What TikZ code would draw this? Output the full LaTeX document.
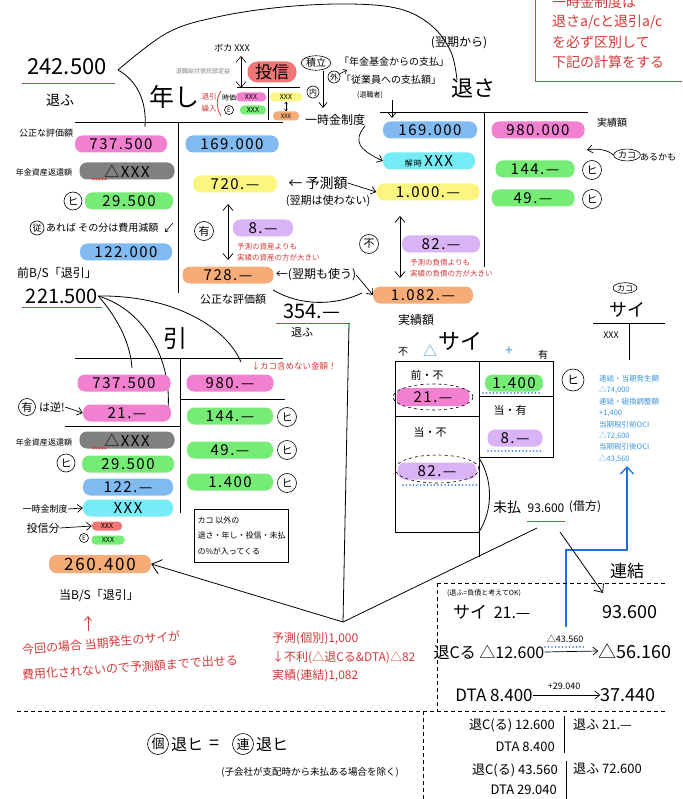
\documentclass[tikz,border=0pt]{standalone}
\usepackage{fontspec}
\setmainfont{Noto Sans CJK JP}
\newfontfamily\hnum[LetterSpace=10]{Noto Sans CJK JP}
\usetikzlibrary{arrows.meta,decorations.pathmorphing,shapes.geometric}
\newcommand\fsz[1]{\fontsize{#1}{#1}\selectfont}
\definecolor{cpink}{RGB}{242,128,208}
\definecolor{cblue}{RGB}{128,186,240}
\definecolor{cgray}{RGB}{128,128,128}
\definecolor{cgreen}{RGB}{118,236,118}
\definecolor{cyellow}{RGB}{250,246,128}
\definecolor{cpurple}{RGB}{218,178,246}
\definecolor{corange}{RGB}{246,172,118}
\definecolor{ccyan}{RGB}{118,236,246}
\definecolor{cred}{RGB}{240,118,118}
\definecolor{tred}{RGB}{212,58,58}
\definecolor{tblue}{RGB}{62,150,218}
\definecolor{dblue}{RGB}{30,115,225}
\tikzset{
  pill/.style={rounded corners=7.5pt, minimum height=17pt, inner sep=0pt, font=\hnum\fsz{15}},
  spill/.style={rounded corners=4pt, minimum height=9pt, inner sep=0pt, font=\fsz{7}},
  txt/.style={inner sep=0pt},
  rtxt/.style={inner sep=0pt, text=tred, font=\fsz{14}},
  circ/.style={draw, circle, line width=0.6pt, inner sep=0pt, minimum size=15pt, font=\fsz{10}},
  oval/.style={draw, ellipse, line width=0.6pt, inner sep=0.5pt, font=\fsz{10}},
  ln/.style={line width=0.8pt},
  arr/.style={line width=0.7pt, -{Straight Barb[length=5pt,width=8pt]}},
  bigarr/.style={line width=0.8pt, -{Straight Barb[length=9pt,width=15pt]}},
  darr/.style={line width=0.7pt, {Straight Barb[length=6pt,width=10pt]}-{Straight Barb[length=6pt,width=10pt]}},
  rnote/.style={inner sep=0pt, text=tred, font={\fontsize{7.5}{10.5}\selectfont}, align=left},
  bnote/.style={inner sep=0pt, text=tblue, font={\fontsize{7.5}{11.4}\selectfont}, align=left},
  redul/.style={draw=tred, line width=1pt},
  bdot/.style={draw=dblue, line width=1.6pt, dash pattern=on 0pt off 3.5pt, line cap=round},
  dsh/.style={line width=0.8pt, dash pattern=on 4pt off 3pt},
  squig/.style={draw=tred, line width=0.6pt, decorate, decoration={snake, amplitude=1pt, segment length=3pt}},
}
\begin{document}
\begin{tikzpicture}[x=1pt,y=-1pt]
\clip (0,0) rectangle (682,799);
\fill[white] (0,0) rectangle (682,799);

% ---------- top-right red box
\coordinate (rb1) at (700,82);
\coordinate (rb2) at (535,82);
\coordinate (rb3) at (535,-5);
\draw[draw=tred, line width=1pt] (rb1) -- (rb2) -- (rb3);
\node[rtxt, anchor=west] (rt1) at (552,2) {一時金制度は};
\node[rtxt, anchor=west] (rt2) at (552,22) {退さa/cと退引a/c};
\node[rtxt, anchor=west] (rt3) at (552,42) {を必ず区別して};
\node[rtxt, anchor=west] (rt4) at (552,62) {下記の計算をする};

% ---------- top-left 242.500
\node[txt, font=\fsz{22}] (n242) at (67,67) {242.500};
\coordinate (u1a) at (22,84); \coordinate (u1b) at (115,84);
\draw[redul] (u1a) -- (u1b);
\node[txt, font=\fsz{14}] (tf1) at (60,100) {退ふ};
\coordinate (tip242) at (118,70);
\coordinate (arcend) at (457,80);
\draw[ln] plot[smooth,tension=0.6] coordinates {(tip242) (167,33) (217,17) (283,7) (350,4) (400,9) (432,26) (451,52) (arcend)};
\coordinate (lowend) at (145,127);
\draw[ln] (tip242) .. controls (136,80) and (147,100) .. (lowend);

% ---------- 投信 area
\node[txt, font=\fsz{9}] (boka) at (232,48) {ボカ XXX};
\coordinate (bk1) at (241,56); \coordinate (bk2) at (241,88);
\draw[darr, line width=0.6pt] (bk1) -- (bk2);
\node[txt, text=gray, font=\fsz{6}] (setei) at (203,71) {退職給付信託設定益};
\node[pill, fill=cred, minimum width=49pt, minimum height=21pt, rounded corners=10pt, font=\fsz{17}] (toushin) at (272,72) {投信};
\node[txt, font=\fsz{25}] (nenshi) at (174,97) {年し};
\node[txt, text=tred, font={\fontsize{7.5}{12}\selectfont}, align=center] (kurii) at (209,103) {退引\\繰入};
\draw[tred, line width=0.8pt] (221,91) .. controls (216,98) and (216,108) .. (221,116);
\node[txt, font=\fsz{7}] (jika) at (229,98) {時価};
\node[spill, fill=cpink, minimum width=30pt] (tsx1) at (251,97) {XXX};
\node[circ, minimum size=9pt, font=\fsz{6}] (tse) at (229,110) {E};
\node[spill, fill=cgreen, minimum width=26pt] (tsx2) at (253,110) {XXX};
\coordinate (tt1) at (237,87); \coordinate (tt2) at (300,87);
\coordinate (tt3) at (268,87); \coordinate (tt4) at (268,120);
\draw[ln] (tt1) -- (tt2); \draw[ln] (tt3) -- (tt4);
\node[spill, fill=cyellow, minimum width=32pt] (tsx3) at (286,97) {XXX};
\node[spill, fill=corange, minimum width=26pt, font=\fsz{6}] (tsx4) at (286,116) {XXX};
\draw[line width=0.5pt, {Straight Barb[length=2pt,width=3pt]}-{Straight Barb[length=2pt,width=3pt]}] (tsx3.south) -- (tsx4.north);

% ---------- 年し T account
\coordinate (nt1) at (75,122); \coordinate (nt2) at (283,122);
\coordinate (nt3) at (178,122); \coordinate (nt4) at (178,293);
\draw[ln] (nt1) -- (nt2); \draw[ln] (nt3) -- (nt4);
\node[txt, font=\fsz{9}] (kosei1) at (46,133) {公正な評価額};
\node[pill, fill=cpink, minimum width=92pt] (p737) at (121,144) {737.500};
\node[txt, font=\fsz{8}] (henkan1) at (44,172) {年金資産返還額};
\node[pill, fill=cgray, minimum width=95pt] (g1) at (127,171) {△XXX};
\draw[squig] (91,179) -- (107,179);
\node[circ, minimum size=18pt, font=\fsz{11}] (h1) at (73,201) {ヒ};
\node[pill, fill=cgreen, minimum width=88pt] (p295) at (129,201) {29.500};
\node[circ, minimum size=14pt, font=\fsz{9}] (ju) at (37,228) {従};
\node[txt, font=\fsz{10}, anchor=west] (areba) at (46,228) {あれば その分は費用減額};
\draw[line width=0.6pt, -{Straight Barb[length=2.5pt,width=4pt]}] (173,223) -- (165,232);
\node[pill, fill=cblue, minimum width=92pt] (p122a) at (126,252) {122.000};
\node[txt, font=\fsz{12}] (zenbs) at (57,273) {前B/S「退引」};
\node[txt, font=\fsz{20}] (n221) at (62,296) {221.500};
\coordinate (u2a) at (22,307); \coordinate (u2b) at (102,307);
\draw[redul] (u2a) -- (u2b);

\node[pill, fill=cblue, minimum width=93pt] (p169a) at (232,144) {169.000};
\node[pill, fill=cyellow, minimum width=84pt] (p720) at (235,184) {720.—};
\node[txt, font=\fsz{14}] (yosoku) at (318,183) {← 予測額};
\node[txt, font=\fsz{11}] (yokuki1) at (328,201) {(翌期は使わない)};
\draw[darr] (228,204) -- (228,260);
\node[circ, minimum size=19pt, font=\fsz{11}] (yu1) at (204,231) {有};
\node[pill, fill=cpurple, minimum width=60pt] (p8a) at (263,228) {8.—};
\node[rnote, anchor=west] (rn1) at (237,252) {予測の資産よりも\\実績の資産の方が大きい};
\node[pill, fill=corange, minimum width=91pt] (p728) at (228,275) {728.—};
\node[txt, font=\fsz{12}] (yokuki2) at (316,275) {←(翌期も使う)};
\node[txt, font=\fsz{11}] (kosei2) at (233,299) {公正な評価額};
\coordinate (sm1) at (273,290); \coordinate (sm2) at (362,293);
\draw[ln] (sm1) .. controls (300,306) and (335,306) .. (sm2);
\node[txt, font=\fsz{20}] (n354) at (312,311) {354.—};
\coordinate (u3a) at (276,323); \coordinate (u3b) at (350,323);
\draw[redul] (u3a) -- (u3b);
\node[txt, font=\fsz{11}] (tf3) at (302,332) {退ふ};

% ---------- top middle notes
\node[oval] (tsumi) at (316,63) {積立};
\node[circ, minimum size=12pt, font=\fsz{8}] (soto) at (334,77) {外};
\coordinate (sotoe) at (347,70);
\draw[line width=0.6pt, -{Straight Barb[length=3pt,width=5pt]}] (soto) -- (sotoe);
\node[circ, minimum size=12pt, font=\fsz{8}] (uchi) at (313,92) {内};
\coordinate (ts2) at (323,108);
\draw[arr] (tsumi.south -| ts2) -- (ts2);
\node[txt, font=\fsz{12}] (ichiji1) at (335,120) {一時金制度};
\node[txt, font=\fsz{10}] (q1) at (394,62) {「年金基金からの支払」};
\node[txt, font=\fsz{10}] (q2) at (391,80) {「従業員への支払額」};
\node[txt, font=\fsz{7}] (q3) at (370,95) {(退職者)};
\coordinate (qa1) at (392,100); \coordinate (qa2) at (392,118);
\draw[arr] (qa1) -- (qa2);
\node[txt, font=\fsz{12}] (yokuki3) at (459,43) {(翌期から)};
\node[txt, font=\fsz{22}] (taisa) at (473,88) {退さ};

% ---------- 退さ T account
\coordinate (st1) at (380,112); \coordinate (st2) at (588,112);
\coordinate (st3) at (484,112); \coordinate (st4) at (484,267);
\draw[ln] (st1) -- (st2); \draw[ln] (st3) -- (st4);
\node[pill, fill=cblue, minimum width=94pt] (p169b) at (430,130) {169.000};
\node[pill, fill=cpink, minimum width=93pt] (p980a) at (538,130) {980.000};
\node[txt, font=\fsz{10}] (jisseki1) at (612,123) {実績額};
\node[pill, fill=ccyan, minimum width=92pt] (pkai) at (429,161) {{\fsz{8}解時}\,XXX};
\draw[arr] (ichiji1.south east) .. controls (352,142) and (360,150) .. (pkai.west);
\node[pill, fill=cyellow, minimum width=103pt] (p1000) at (428,192) {1.000.—};
\draw[arr] (yosoku.east) -- (p1000.west);
\node[oval, font=\fsz{9}] (kako1) at (627,155) {カコ};
\node[txt, font=\fsz{9}, anchor=west] (arukamo) at (640,157) {あるかも};
\coordinate (kk2) at (587,150);
\draw[arr] (kako1.west) .. controls (608,150) and (598,148) .. (kk2);
\node[pill, fill=cgreen, minimum width=79pt] (p144a) at (535,169) {144.—};
\node[circ, minimum size=19pt, font=\fsz{11}] (h2) at (592,170) {ヒ};
\node[pill, fill=cgreen, minimum width=83pt] (p49a) at (533,198) {49.—};
\node[circ, minimum size=19pt, font=\fsz{11}] (h3) at (592,199) {ヒ};
\draw[darr] (400,216) -- (400,278);
\node[circ, minimum size=19pt, font=\fsz{11}] (fu1) at (369,244) {不};
\node[pill, fill=cpurple, minimum width=78pt] (p82a) at (441,244) {82.—};
\node[rnote, anchor=west] (rn2) at (410,268) {予測の負債よりも\\実績の負債の方が大きい};
\node[pill, fill=corange, minimum width=100pt] (p1082) at (423,295) {1.082.—};
\draw[arr] (yokuki2.east) -- (p1082.west);
\node[txt, font=\fsz{12}] (jisseki2) at (416,320) {実績額};

% ---------- カコ サイ small T
\node[oval, font=\fsz{8}] (kako2) at (625,288) {カコ};
\node[txt, font=\fsz{18}] (sai2) at (627,310) {サイ};
\coordinate (kt1) at (593,323); \coordinate (kt2) at (665,323);
\coordinate (kt3) at (629,323); \coordinate (kt4) at (629,360);
\draw[ln] (kt1) -- (kt2); \draw[ln] (kt3) -- (kt4);
\node[txt, font=\fsz{9}] (kxxx) at (611,335) {XXX};
\node[bnote, anchor=west] (bn) at (599,419) {連結・当期発生額\\△74,000\\連結・組換調整額\\+1,400\\当期税引前OCI\\△72,600\\当期税引後OCI\\△43,560};
\coordinate (bl1) at (566,627); \coordinate (bl2) at (566,550);
\coordinate (bl3) at (627,550); \coordinate (bl4) at (627,466);
\draw[dblue, line width=1.3pt, -{Straight Barb[length=7pt,width=13pt]}] (bl1) -- (bl2) -- (bl3) -- (bl4);

% ---------- サイ box
\node[txt, font=\fsz{10}] (hfu) at (403,352) {不};
\node[txt, text=tblue, font=\fsz{14}] (htri) at (430,351) {△};
\node[txt, font=\fsz{22}] (sai1) at (460,341) {サイ};
\node[txt, text=tblue, font=\fsz{14}] (hplus) at (509,351) {+};
\node[txt, font=\fsz{10}] (hyu) at (543,355) {有};
\draw[ln] (395,361) rectangle (479,532);
\draw[ln] (479,361) rectangle (553,457);
\draw[ln] (395,416) -- (479,416);
\draw[ln] (479,396) -- (553,396);
\draw[ln] (479,532) -- (479,557);
\node[txt, font=\fsz{11}] (zenfu) at (427,375) {前・不};
\node[pill, fill=cpink, minimum width=73pt, minimum height=18pt] (p21b) at (433,397) {21.—};
\draw[dashed, line width=0.6pt] (p21b.center) ellipse [x radius=40pt, y radius=13pt];
\node[txt, font=\fsz{11}] (toufu) at (430,432) {当・不};
\node[pill, fill=cpurple, minimum width=79pt] (p82b) at (437,471) {82.—};
\draw[dashed, line width=0.6pt] (437,469) ellipse [x radius=42pt, y radius=14pt];
\draw[bdot] (403,485) -- (480,485);
\node[pill, fill=cgreen, minimum width=58pt] (p1400a) at (514,383) {1.400};
\draw[bdot] (483,393) -- (541,393);
\node[txt, font=\fsz{11}] (touyu) at (510,410) {当・有};
\node[pill, fill=cpurple, minimum width=55pt] (p8b) at (515,438) {8.—};
\draw[bdot] (488,451) -- (543,451);
\node[circ, minimum size=22pt, font=\fsz{12}] (h4) at (573,380) {ヒ};
\draw[ln] (479,458) .. controls (493,480) and (493,510) .. (479,532);
\node[txt, font=\fsz{14}] (mibarai) at (507,507) {未払};
\node[txt, font=\fsz{12}] (m936) at (546,508) {93.600};
\node[txt, font=\fsz{12}] (karikata) at (585,507) {(借方)};
\coordinate (u4a) at (527,521); \coordinate (u4b) at (565,521);
\draw[redul] (u4a) -- (u4b);

% ---------- 引 T account
\coordinate (c1e) at (132,368);
\coordinate (c2e) at (168,410);
\coordinate (c3e) at (241,362);
\draw[ln] (n221.east) .. controls (115,315) and (130,340) .. (c1e);
\draw[ln] (n221.east) .. controls (145,310) and (172,360) .. (c2e);
\draw[ln] (n221.east) .. controls (170,295) and (225,325) .. (c3e);
\node[txt, font=\fsz{24}] (hiki) at (175,338) {引};
\coordinate (ht1) at (75,358); \coordinate (ht2) at (283,358);
\coordinate (ht3) at (180,358); \coordinate (ht4) at (180,513);
\draw[ln] (ht1) -- (ht2); \draw[ln] (ht3) -- (ht4);
\node[txt, text=tred, font=\fsz{8.5}] (kakonote) at (294,366) {↓カコ含めない金額！};
\node[pill, fill=cpink, minimum width=93pt] (p737b) at (124,383) {737.500};
\node[pill, fill=cpink, minimum width=87pt] (p980b) at (230,383) {980.—};
\draw[ln] (180,399) -- (285,399);
\node[circ, minimum size=17pt, font=\fsz{11}] (yu2) at (27,407) {有};
\node[txt, font=\fsz{11}] (gyaku) at (52,407) {は逆!};
\node[pill, fill=cpink, minimum width=88pt] (p21a) at (127,413) {21.—};
\draw[arr] (gyaku.east) -- (p21a.west);
\draw[ln] (65,426) -- (180,426);
\node[txt, font=\fsz{8}] (henkan2) at (44,442) {年金資産返還額};
\node[pill, fill=cgray, minimum width=95pt] (g2) at (127,440) {△XXX};
\draw[squig] (91,448) -- (107,448);
\node[circ, minimum size=18pt, font=\fsz{11}] (h5) at (66,463) {ヒ};
\node[pill, fill=cgreen, minimum width=92pt] (p295b) at (128,464) {29.500};
\node[pill, fill=cblue, minimum width=90pt] (p122b) at (128,487) {122.—};
\node[txt, font=\fsz{9}] (ichiji2) at (45,509) {一時金制度};
\node[pill, fill=ccyan, minimum width=90pt] (pxxx) at (128,508) {XXX};
\draw[arr] (ichiji2.east) -- (pxxx.west);
\node[txt, font=\fsz{11}] (toushinbun) at (43,528) {投信分};
\node[spill, fill=cred, minimum width=30pt] (sx1) at (107,526) {XXX};
\draw[arr] (toushinbun.east) -- (sx1.west);
\node[circ, minimum size=9pt, font=\fsz{6}] (e2) at (84,538) {E};
\node[spill, fill=cgreen, minimum width=33pt] (sx2) at (108,540) {XXX};
\node[pill, fill=corange, minimum width=102pt, minimum height=18pt, font=\hnum\fsz{17}] (p260) at (100,564) {260.400};
\node[txt, font=\fsz{12}] (toubs) at (99,595) {当B/S「退引」};
\node[pill, fill=cgreen, minimum width=86pt] (p144b) at (230,416) {144.—};
\node[circ, minimum size=19pt, font=\fsz{11}] (h6) at (287,417) {ヒ};
\node[pill, fill=cgreen, minimum width=86pt] (p49b) at (230,450) {49.—};
\node[circ, minimum size=19pt, font=\fsz{11}] (h7) at (287,450) {ヒ};
\node[pill, fill=cgreen, minimum width=86pt] (p1400b) at (230,482) {1.400};
\node[circ, minimum size=19pt, font=\fsz{11}] (h8) at (287,483) {ヒ};
\node[draw, line width=0.7pt, minimum width=85pt, minimum height=53pt, align=left, inner sep=3pt, font={\fontsize{8}{15.5}\selectfont}] (notebox) at (241.5,535.5) {カコ 以外の\\退さ・年し・投信・未払\\の\%が入ってくる};

% ---------- apex connectors
\coordinate (v354) at (349,323);
\coordinate (apex) at (343,622);
\draw[ln] (v354) -- (apex);
\draw[bigarr] (apex) -- (p260.east);
\coordinate (mib1) at (537,528);
\draw[ln] (apex) -- (mib1);
\coordinate (mib2) at (560,532);
\coordinate (r936tip) at (603,593);
\draw[bigarr, -{Straight Barb[length=7pt,width=12pt]}] (mib2) -- (r936tip);

% ---------- bottom-left red notes
\coordinate (ra1) at (88,631); \coordinate (ra2) at (88,616);
\draw[tred, line width=0.8pt, -{Straight Barb[length=4pt,width=7pt]}] (ra1) -- (ra2);
\node[txt, text=tred, font=\fsz{12}, rotate=5, anchor=west] (rh1) at (22,650) {今回の場合 当期発生のサイが};
\node[txt, text=tred, font=\fsz{12}, rotate=4, anchor=west] (rh2) at (22,675) {費用化されないので予測額までで出せる};
\node[txt, text=tred, font=\fsz{12}, anchor=west] (rt5) at (272,639) {予測(個別)1,000};
\node[txt, text=tred, font=\fsz{12}, anchor=west] (rt6) at (272,658) {↓不利(△退Cる\&DTA)△82};
\node[txt, text=tred, font=\fsz{12}, anchor=west] (rt7) at (272,676) {実績(連結)1,082};

% ---------- dashed frames
\draw[dsh] (17,711) -- (668,711);
\draw[dsh] (437,583) -- (668,583);
\draw[dsh] (437,583) -- (437,711);
\draw[dsh] (423,711) -- (423,799);

% ---------- 連結 box
\node[txt, font=\fsz{17}] (renketsu) at (627,571) {連結};
\node[txt, font=\fsz{7}] (futsu) at (484,593) {(退ふ=負債と考えてOK)};
\node[txt, font=\fsz{17}] (sai3) at (470,612) {サイ};
\node[txt, font=\fsz{16}] (s21) at (512,613) {21.—};
\node[txt, font=\fsz{18}] (r936) at (630,612) {93.600};
\node[txt, font=\fsz{16}] (taic1) at (489,652) {退Cる △12.600};
\node[txt, font=\fsz{18}] (r5616) at (635,651) {△56.160};
\draw[arr] (taic1.east) -- (r5616.west);
\node[txt, font=\fsz{9}] (a4356) at (565,639) {△43.560};
\draw[bdot] (545,647) -- (585,647);
\node[txt, font=\fsz{17}] (dta1) at (494,695) {DTA 8.400};
\node[txt, font=\fsz{18}] (r3744) at (628,695) {37.440};
\draw[arr] (dta1.east) -- (r3744.west);
\node[txt, font=\fsz{9}] (a2904) at (564,686) {+29.040};

% ---------- bottom table
\node[txt, font=\fsz{13}, anchor=east] (bt1) at (555,725) {退C(る) 12.600};
\node[txt, font=\fsz{13}, anchor=east] (bt2) at (555,747) {DTA 8.400};
\draw[ln] (564,716) -- (564,753);
\node[txt, font=\fsz{13}, anchor=west] (bt3) at (573,725) {退ふ 21.—};
\node[txt, font=\fsz{13}, anchor=east] (bt4) at (558,770) {退C(る) 43.560};
\node[txt, font=\fsz{13}, anchor=east] (bt5) at (557,790) {DTA 29.040};
\draw[ln] (566,761) -- (566,799);
\node[txt, font=\fsz{13}, anchor=west] (bt6) at (573,769) {退ふ 72.600};

% ---------- bottom formula
\node[circ, minimum size=21pt, font=\fsz{13}] (ko) at (158,744) {個};
\node[txt, font=\fsz{16}, anchor=west] (taihi1) at (171,745) {退ヒ};
\node[txt, font=\fsz{18}] (eq) at (214,745) {=};
\node[circ, minimum size=21pt, font=\fsz{13}] (ren) at (243,744) {連};
\node[txt, font=\fsz{16}, anchor=west] (taihi2) at (256,745) {退ヒ};
\node[txt, font=\fsz{9.5}] (kogaisha) at (310,772) {(子会社が支配時から未払ある場合を除く)};
\end{tikzpicture}
\end{document}
